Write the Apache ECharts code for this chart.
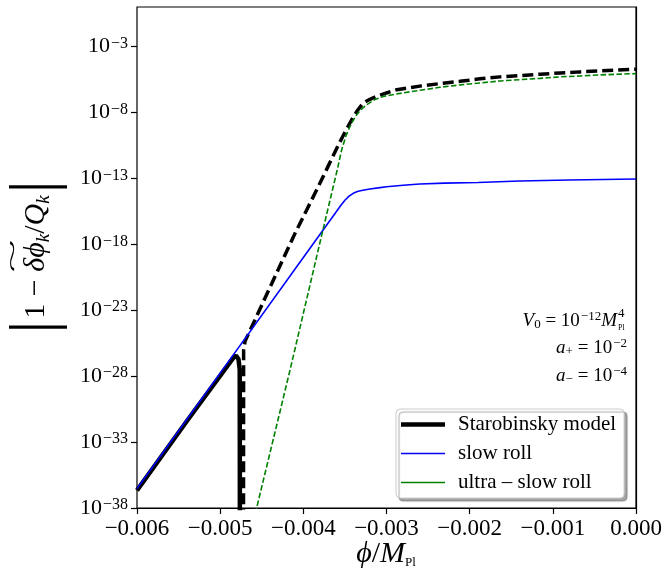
<!DOCTYPE html>
<html><head><meta charset="utf-8">
<script src="https://cdn.jsdelivr.net/npm/echarts@6/dist/echarts.min.js"></script>
<style>html,body{margin:0;padding:0;background:#fff}#c{width:666px;height:575px}</style>
</head><body><div id="c"></div>
<script>
// ---- data ----
const xTicks = [-0.006, -0.005, -0.004, -0.003, -0.002, -0.001, 0];
// decade exponents of the y tick labels (10^-38 ... 10^-3, step 5)
const yTickExponents = [-38, -33, -28, -23, -18, -13, -8, -3];

// Starobinsky model, noisy (solid-looking) part before the zero crossing
const phiStaroA = [-0.006, -0.0054, -0.00484, -0.00481, -0.00478, -0.004765, -0.004762];
const valStaroA = [2.19e-37, 3.98e-32, 2.51e-27, 3.55e-27, 2.0e-27, 3.16e-28, 1e-45];

// Starobinsky model, dashed part after the zero crossing
const phiStaroB = [-0.00472, -0.004718, -0.0047, -0.0045, -0.0043, -0.0041, -0.00396, -0.00382, -0.0037,
  -0.00364, -0.00357, -0.00352, -0.00347, -0.003418, -0.00335, -0.003279, -0.0032, -0.003118, -0.003, -0.002877,
  -0.002597, -0.002357, -0.002116, -0.001876, -0.001635, -0.001395, -0.001154, -0.000914, -0.000673, -0.000433, 0];
const valStaroB = [1e-45, 1e-26, 4.57e-26, 2.40e-23, 1.29e-20, 6.76e-18, 3.98e-16, 2.40e-14, 8.91e-13,
  5.37e-12, 4.37e-11, 1.78e-10, 7.08e-10, 2.82e-9, 1.41e-8, 5.25e-8, 1.0e-7, 1.66e-7, 3.02e-7, 5.37e-7,
  1.0e-6, 1.55e-6, 2.29e-6, 3.55e-6, 5.01e-6, 6.31e-6, 7.94e-6, 1.0e-5, 1.20e-5, 1.41e-5, 1.91e-5];

// slow roll
const phiSR = [-0.006, -0.005, -0.004, -0.00355, -0.0035, -0.00345,
  -0.0034, -0.00335, -0.0033, -0.0032, -0.0031, -0.003, -0.0028, -0.0026, -0.0023, -0.0019, -0.0014,
  -0.0011, -0.0008, -0.0004, 0];
const valSR = [2.95e-37, 1.70e-28, 1.0e-19, 8.71e-16, 2.19e-15, 4.47e-15,
  7.41e-15, 1.0e-14, 1.20e-14, 1.58e-14, 1.91e-14, 2.34e-14, 3.02e-14, 3.80e-14, 4.37e-14, 4.90e-14, 6.31e-14,
  6.92e-14, 7.59e-14, 8.32e-14, 8.91e-14];

// ultra - slow roll
const phiUSR = [-0.0046, -0.00416, -0.003779, -0.00364, -0.003589, -0.003539, -0.003489, -0.003439, -0.003398,
  -0.003358, -0.0033, -0.003238, -0.00314, -0.003038,
  -0.002838, -0.002597, -0.002357, -0.002116, -0.001876, -0.001635, -0.001395, -0.001154, -0.000914,
  -0.000673, -0.000433, 0];
const valUSR = [1e-39, 2.88e-28, 5.01e-18, 2.45e-14, 5.5e-13, 1.48e-11, 1.6e-10, 8.71e-10, 2.6e-9,
  6.76e-9, 1.8e-8, 3.89e-8, 9.5e-8, 1.66e-7,
  2.82e-7, 4.79e-7, 8.13e-7, 1.23e-6, 1.74e-6, 2.45e-6, 3.09e-6, 3.89e-6, 5.01e-6,
  5.89e-6, 7.08e-6, 8.91e-6];

const legendNames = ['Starobinsky model', 'slow roll', 'ultra \u2013 slow roll'];

// ---- chart ----
const SERIF = "'Liberation Serif', 'DejaVu Serif', serif";
const zip = (xs, ys) => xs.map((x, i) => [x, ys[i]]);
const chart = echarts.init(document.getElementById('c'), null, {renderer: 'canvas'});
const annRich = {
  t: {fontFamily: SERIF, fontSize: 19, fill: '#000'},
  i: {fontFamily: SERIF, fontStyle: 'italic', fontSize: 19, fill: '#000'},
  sub: {fontFamily: SERIF, fontSize: 13, fill: '#000', padding: [8, 0, 0, 0]},
  sup: {fontFamily: SERIF, fontSize: 13, fill: '#000', padding: [0, 0, 9, 1]}
};

const option = {
  animation: false,
  backgroundColor: '#fff',
  grid: {left: 137, right: 30, top: 7, bottom: 67, show: true, borderColor: '#000', borderWidth: 1.2, backgroundColor: 'transparent'},
  xAxis: {
    type: 'value', min: xTicks[0], max: xTicks[xTicks.length - 1], interval: 0.001,
    axisLine: {show: true, lineStyle: {color: '#000', width: 1.2}},
    axisTick: {show: true, inside: false, length: 6, lineStyle: {color: '#000', width: 1.2}},
    axisLabel: {
      color: '#000', fontFamily: SERIF, fontSize: 23, margin: 9,
      formatter: v => (Math.abs(v) < 1e-12 ? '0.000' : '\u2212' + Math.abs(v).toFixed(3))
    },
    splitLine: {show: false}
  },
  yAxis: [
    { // data axis (logarithmic)
      type: 'log', logBase: 10, min: 1e-38, max: 1,
      axisLine: {show: true, lineStyle: {color: '#000', width: 1.2}},
      axisTick: {show: false}, minorTick: {show: false}, axisLabel: {show: false},
      splitLine: {show: false}
    },
    { // decade ticks/labels for the same range, in exponents
      type: 'value', position: 'left', min: yTickExponents[0], max: 0, interval: 5,
      axisLine: {show: false},
      axisTick: {show: true, inside: false, length: 6, lineStyle: {color: '#000', width: 1.2}},
      axisLabel: {
        margin: 9, color: '#000', showMaxLabel: false,
        formatter: v => (yTickExponents.indexOf(v) < 0 ? '' : '{b|10}{s|\u2212' + Math.abs(v) + '}'),
        rich: {
          b: {fontFamily: SERIF, fontSize: 22, color: '#000', lineHeight: 22},
          s: {fontFamily: SERIF, fontSize: 16, color: '#000', verticalAlign: 'top', lineHeight: 12, padding: [0, 0, 0, 1]}
        }
      },
      splitLine: {show: false}
    }
  ],
  legend: {
    orient: 'vertical', left: 396, top: 409,
    itemWidth: 44, itemHeight: 14, itemGap: 8,
    padding: [5, 8, 5, 5],
    backgroundColor: '#fff', borderColor: '#cccccc', borderWidth: 1, borderRadius: 4,
    shadowColor: 'rgba(0,0,0,0.35)', shadowBlur: 1, shadowOffsetX: 3, shadowOffsetY: 3,
    textStyle: {fontFamily: SERIF, fontSize: 21, color: '#000', lineHeight: 20, padding: [0, 0, 0, 8]},
    data: [
      {name: legendNames[0], icon: 'path://M0,0H44V4.5H0Z', itemStyle: {color: '#000'}},
      {name: legendNames[1], icon: 'path://M0,0H44V1.6H0Z', itemStyle: {color: '#0000ff'}},
      {name: legendNames[2], icon: 'path://M0,0H44V1.6H0Z', itemStyle: {color: '#008000'}}
    ]
  },
  series: [
    {name: legendNames[0], type: 'line', yAxisIndex: 0, data: zip(phiStaroA, valStaroA), symbol: 'none',
      lineStyle: {color: '#000', width: 4.5, type: 'solid'}, itemStyle: {color: '#000'}, z: 2, clip: true},
    {name: legendNames[0], type: 'line', yAxisIndex: 0, data: zip(phiStaroB, valStaroB), symbol: 'none',
      lineStyle: {color: '#000', width: 3.5, type: [11, 5]}, itemStyle: {color: '#000'}, z: 2, clip: true},
    {name: legendNames[1], type: 'line', yAxisIndex: 0, data: zip(phiSR, valSR), symbol: 'none',
      lineStyle: {color: '#0000ff', width: 1.6}, itemStyle: {color: '#0000ff'}, z: 3, clip: true},
    {name: legendNames[2], type: 'line', yAxisIndex: 0, data: zip(phiUSR, valUSR), symbol: 'none',
      lineStyle: {color: '#008000', width: 1.6, type: [5.5, 2.4]}, itemStyle: {color: '#008000'}, z: 4, clip: true}
  ],
  graphic: [
    // y axis title
    {type: 'text', x: 36, y: 257, rotation: Math.PI / 2, silent: true,
      style: {
        text: '{bar||}{t|1 \u2212 }{i|\u03B4\u03D5}{sub|k}{t|/}{i|Q}{sub|k}{bar||}',
        align: 'center', verticalAlign: 'middle',
        rich: {
          bar: {fontFamily: SERIF, fontSize: 64, fill: '#000', lineHeight: 64, padding: [0, 2, 0, 2]},
          t: {fontFamily: SERIF, fontSize: 30, fill: '#000'},
          i: {fontFamily: SERIF, fontStyle: 'italic', fontSize: 30, fill: '#000'},
          sub: {fontFamily: SERIF, fontStyle: 'italic', fontSize: 19, fill: '#000', padding: [15, 0, 0, 0]}
        }
      }},
    // wide tilde over δϕ_k
    {type: 'text', x: 13, y: 256, rotation: Math.PI / 2, scaleX: 2.8, silent: true,
      style: {text: '~', fontFamily: SERIF, fontSize: 22, fill: '#000', align: 'center', verticalAlign: 'middle'}},
    // x axis title
    {type: 'text', x: 386, y: 554, silent: true,
      style: {
        text: '{i|\u03D5}{t|/}{i|M}{sub|Pl}',
        align: 'center', verticalAlign: 'middle',
        rich: {
          t: {fontFamily: SERIF, fontSize: 30, fill: '#000'},
          i: {fontFamily: SERIF, fontStyle: 'italic', fontSize: 30, fill: '#000'},
          sub: {fontFamily: SERIF, fontSize: 13, fill: '#000', padding: [18, 0, 0, 0]}
        }
      }},
    // annotation
    {type: 'text', x: 617, y: 321, silent: true,
      style: {text: '{i|V}{sub|0}{t| = 10}{sup|\u221212}{i|M}', align: 'right', verticalAlign: 'middle', rich: annRich}},
    {type: 'text', x: 618, y: 314, silent: true,
      style: {text: '4', fontFamily: SERIF, fontSize: 13, fill: '#000', align: 'left', verticalAlign: 'middle'}},
    {type: 'text', x: 618, y: 328, silent: true,
      style: {text: 'Pl', fontFamily: SERIF, fontSize: 8, fill: '#000', align: 'left', verticalAlign: 'middle'}},
    {type: 'text', x: 627, y: 348, silent: true,
      style: {text: '{i|a}{sub|+}{t| = 10}{sup|\u22122}', align: 'right', verticalAlign: 'middle', rich: annRich}},
    {type: 'text', x: 627, y: 376, silent: true,
      style: {text: '{i|a}{sub|\u2212}{t| = 10}{sup|\u22124}', align: 'right', verticalAlign: 'middle', rich: annRich}}
  ]
};
chart.setOption(option);
</script>
</body></html>
